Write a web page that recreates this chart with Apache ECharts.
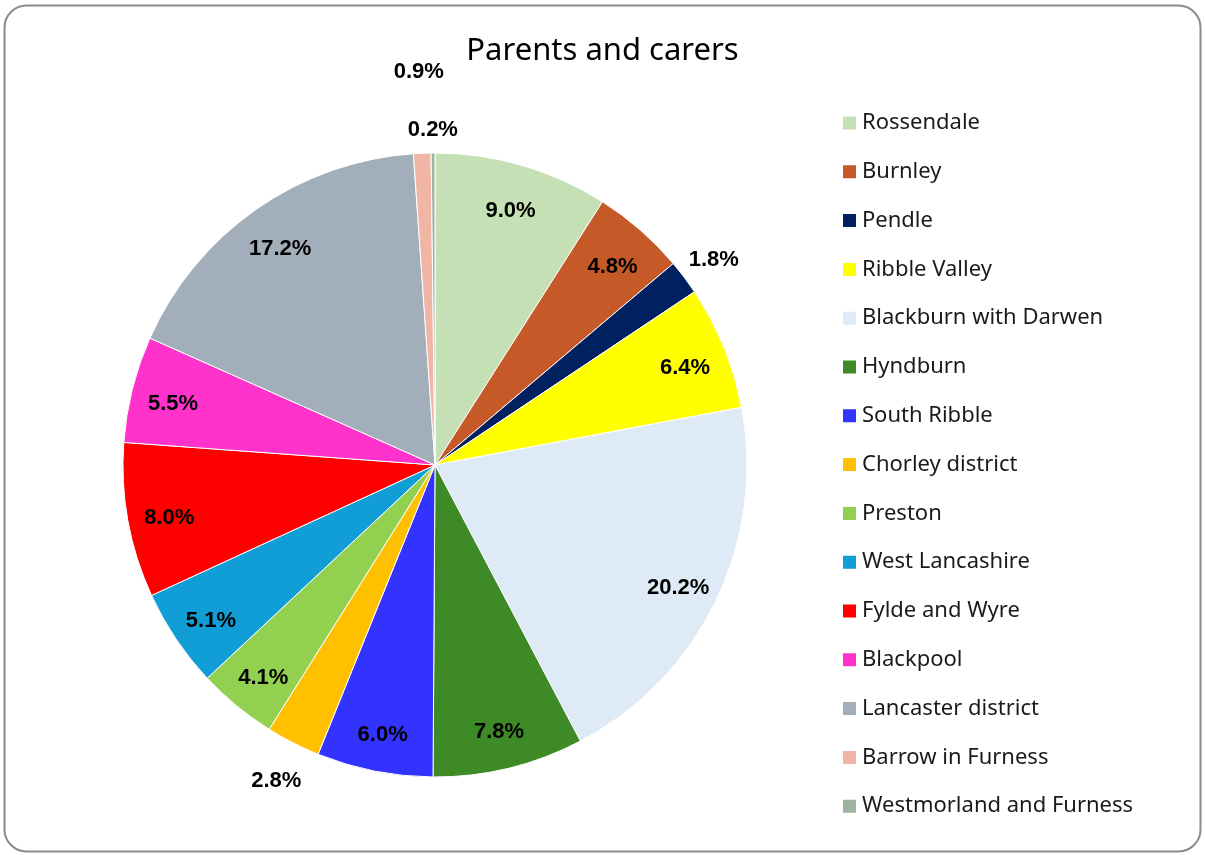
<!DOCTYPE html>
<html>
<head>
<meta charset="utf-8">
<title>Parents and carers</title>
<script src="https://cdn.jsdelivr.net/npm/echarts@6/dist/echarts.min.js"></script>
<style>
  html, body { margin: 0; padding: 0; background: #fff; }
  #chart { width: 1205px; height: 855px; }
</style>
</head>
<body>
<div id="chart"></div>
<script>
// Share of responses by district (percent)
const districts = [
  'Rossendale', 'Burnley', 'Pendle', 'Ribble Valley', 'Blackburn with Darwen',
  'Hyndburn', 'South Ribble', 'Chorley district', 'Preston', 'West Lancashire',
  'Fylde and Wyre', 'Blackpool', 'Lancaster district', 'Barrow in Furness',
  'Westmorland and Furness'
];
const shares = [9.0, 4.8, 1.8, 6.4, 20.2, 7.8, 6.0, 2.8, 4.1, 5.1, 8.0, 5.5, 17.2, 0.9, 0.2];
const districtColors = [
  '#C5E0B4', '#C55A28', '#002060', '#FFFF00', '#DEEBF7',
  '#3E8A26', '#3333FF', '#FFC000', '#92D050', '#119DD6',
  '#FF0000', '#FF33CC', '#A2AFBB', '#F0B5A5', '#A0B2A0'
];

// Thin slices get their percentage outside the pie
const nearOutside = ['Pendle', 'Chorley district'];
const edgeOutside = ['Westmorland and Furness'];
const farOutside = ['Barrow in Furness'];
const outsideAll = nearOutside.concat(edgeOutside, farOutside);

const CX = 435, CY = 465, R = 312;
const labelFont = {
  fontFamily: '"Liberation Sans", Arial, sans-serif',
  fontWeight: 'bold',
  fontSize: 22,
  color: '#000'
};

// Invisible ring whose midline carries the percentage labels for the given districts
function labelRing(r0, r1, shown) {
  return {
    type: 'pie',
    center: [CX, CY],
    radius: [r0, r1],
    startAngle: 90,
    clockwise: true,
    silent: true,
    legendHoverLink: false,
    animation: false,
    tooltip: { show: false },
    emphasis: { disabled: true },
    labelLine: { show: false },
    label: {
      position: 'inside',
      offset: [0, 5],
      formatter: p => p.value.toFixed(1) + '%',
      ...labelFont
    },
    data: districts.map((n, i) => ({
      name: n,
      value: shares[i],
      itemStyle: { color: 'rgba(0,0,0,0)', borderWidth: 0 },
      label: { show: shown.includes(n) }
    }))
  };
}

const chart = echarts.init(document.getElementById('chart'), null, { renderer: 'canvas' });

chart.setOption({
  backgroundColor: '#fff',
  animation: false,
  title: {
    text: 'Parents and carers',
    left: 'center',
    top: 36,
    padding: 0,
    textStyle: {
      fontFamily: '"Noto Sans", sans-serif',
      fontWeight: 'normal',
      fontSize: 31,
      color: '#000'
    }
  },
  legend: {
    orient: 'vertical',
    left: 841,
    top: 112,
    padding: 0,
    icon: 'rect',
    itemWidth: 15,
    itemHeight: 15,
    itemGap: 26.8,
    selectedMode: false,
    textStyle: {
      fontFamily: '"Noto Sans", sans-serif',
      fontSize: 22,
      lineHeight: 22,
      color: '#1a1a1a'
    },
    data: districts
  },
  graphic: [{
    type: 'rect',
    silent: true,
    shape: { x: 4.5, y: 5.5, width: 1196, height: 846, r: 22 },
    style: { fill: 'none', stroke: '#8a8a8a', lineWidth: 2 }
  }],
  series: [
    {
      type: 'pie',
      name: 'Parents and carers',
      center: [CX, CY],
      radius: R,
      startAngle: 90,
      clockwise: true,
      label: { show: false },
      labelLine: { show: false },
      emphasis: { scale: false },
      itemStyle: { borderColor: '#fff', borderWidth: 1 },
      data: districts.map((n, i) => ({
        name: n,
        value: shares[i],
        itemStyle: { color: districtColors[i] }
      }))
    },
    labelRing(222, 312, districts.filter(n => !outsideAll.includes(n))),
    labelRing(312, 380, nearOutside),
    labelRing(312, 362, edgeOutside),
    labelRing(312, 478, farOutside)
  ]
});
</script>
</body>
</html>
